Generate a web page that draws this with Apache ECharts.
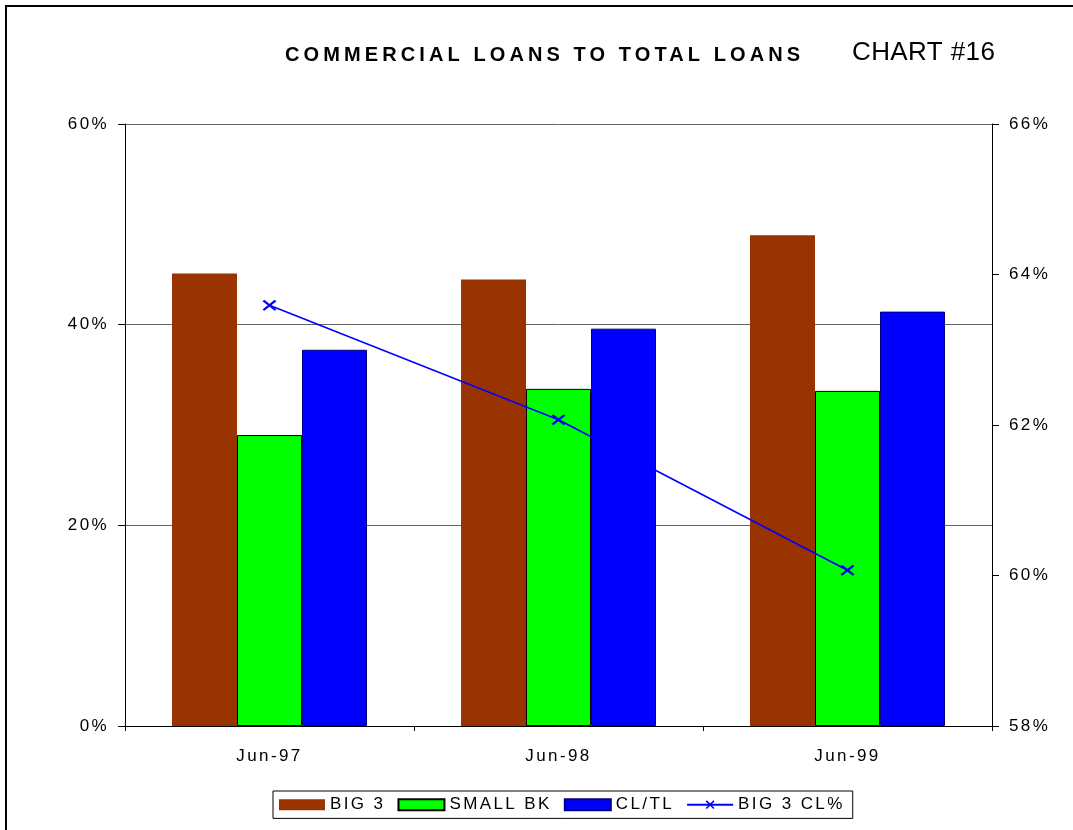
<!DOCTYPE html>
<html>
<head>
<meta charset="utf-8">
<style>
html,body{margin:0;padding:0;background:#fff;}
#chart{width:1073px;height:830px;}
</style>
<script src="https://cdn.jsdelivr.net/npm/echarts@6/dist/echarts.min.js"></script>
</head>
<body>
<div id="chart"></div>
<script>
// ---- data ----
const categories = ['Jun-97', 'Jun-98', 'Jun-99'];
const big3 = [45.1, 44.5, 48.9];
const smallBk = [29.0, 33.6, 33.4];
const clTl = [37.5, 39.6, 41.3];
const big3Cl = [63.59, 62.07, 60.07];
const seriesNames = ['BIG 3', 'SMALL BK', 'CL/TL', 'BIG 3 CL%'];

// letter spacing per font size (the original uses spaced-out lettering)
const SPACING = {17: 2.4, 20: 4.1, 26: 0.4};
function spacingFor(font) {
  const m = /(\d+(?:\.\d+)?)px/.exec(font || '');
  return m ? (SPACING[+m[1]] || 0) : 0;
}
(function () {
  const P = CanvasRenderingContext2D.prototype;
  if (!('letterSpacing' in P)) return;
  const of = P.fillText, om = P.measureText;
  P.fillText = function (t, x, y, w) {
    const prev = this.letterSpacing;
    this.letterSpacing = spacingFor(this.font) + 'px';
    const r = (w === undefined) ? of.call(this, t, x, y) : of.call(this, t, x, y, w);
    this.letterSpacing = prev;
    return r;
  };
  P.measureText = function (t) {
    const prev = this.letterSpacing;
    this.letterSpacing = spacingFor(this.font) + 'px';
    const r = om.call(this, t);
    this.letterSpacing = prev;
    return r;
  };
})();

const FONT = 'Liberation Sans, Arial, sans-serif';
const chart = echarts.init(document.getElementById('chart'), null, {renderer: 'canvas'});

const option = {
  animation: false,
  backgroundColor: '#fff',
  textStyle: {fontFamily: FONT, color: '#000'},
  title: [
    {text: 'COMMERCIAL LOANS TO TOTAL LOANS', left: 285, top: 43, padding: 0,
     textStyle: {fontSize: 20, fontWeight: 'bold', color: '#000', fontFamily: FONT}},
    {text: 'CHART #16', left: 852, top: 40, padding: 0,
     textStyle: {fontSize: 26, fontWeight: 'normal', color: '#000', fontFamily: FONT}}
  ],
  graphic: [{
    type: 'rect', silent: true, z: -1,
    shape: {x: 6, y: 6, width: 1200, height: 1000},
    style: {fill: 'none', stroke: '#000', lineWidth: 2}
  }],
  legend: {
    left: 273, top: 791, orient: 'horizontal',
    itemWidth: 46, itemHeight: 11, itemGap: 12,
    padding: [4, 8, 4, 6],
    borderColor: '#000', borderWidth: 1,
    textStyle: {fontSize: 17, color: '#000', fontFamily: FONT},
    data: [
      {name: seriesNames[0], icon: 'rect'},
      {name: seriesNames[1], icon: 'rect'},
      {name: seriesNames[2], icon: 'rect'},
      {name: seriesNames[3]}
    ]
  },
  grid: {left: 125, right: 81, top: 124, bottom: 104, containLabel: false},
  xAxis: {
    type: 'category', data: categories,
    axisLine: {lineStyle: {color: '#000', width: 1}},
    axisTick: {show: true, length: 5, lineStyle: {color: '#000'}},
    axisLabel: {color: '#000', fontSize: 17, margin: 21, fontFamily: FONT},
    splitLine: {show: false}
  },
  yAxis: [
    {
      type: 'value', min: 0, max: 60, interval: 20, position: 'left',
      axisLine: {show: true, lineStyle: {color: '#000'}},
      axisTick: {show: true, length: 7, lineStyle: {color: '#000'}},
      axisLabel: {color: '#000', fontSize: 17, margin: 16, formatter: v => v + '%', fontFamily: FONT},
      splitLine: {show: true, lineStyle: {color: '#666', width: 1}}
    },
    {
      type: 'value', min: 58, max: 66, interval: 2, position: 'right',
      axisLine: {show: true, lineStyle: {color: '#000'}},
      axisTick: {show: true, length: 7, lineStyle: {color: '#000'}},
      axisLabel: {color: '#000', fontSize: 17, margin: 17, formatter: v => Math.round(v) + '%', fontFamily: FONT},
      splitLine: {show: false}
    }
  ],
  series: [
    {name: seriesNames[0], type: 'bar', data: big3, barWidth: 65, barGap: '0%',
     itemStyle: {color: '#993300', borderColor: '#993300', borderWidth: 0}},
    {name: seriesNames[1], type: 'bar', data: smallBk, barWidth: 65, barGap: '0%',
     itemStyle: {color: '#00FF00', borderColor: '#000', borderWidth: 1}},
    {name: seriesNames[2], type: 'bar', data: clTl, barWidth: 65, barGap: '0%',
     itemStyle: {color: '#0000FF', borderColor: '#000080', borderWidth: 1}},
    {name: seriesNames[3], type: 'line', yAxisIndex: 1, data: big3Cl,
     symbol: 'path://M0,1.3L1.3,0L10,8.7L8.7,10Z M8.7,0L10,1.3L1.3,10L0,8.7Z',
     symbolSize: [14, 11], symbolKeepAspect: false, showSymbol: true,
     lineStyle: {color: '#0000FF', width: 1.6},
     itemStyle: {color: '#0000FF', borderWidth: 0}, z: 5}
  ]
};
chart.setOption(option);
</script>
</body>
</html>
